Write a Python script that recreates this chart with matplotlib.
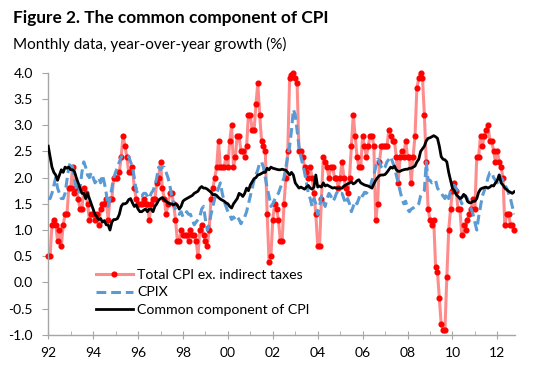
import matplotlib
matplotlib.use("Agg")
import matplotlib.pyplot as plt
from matplotlib.ticker import MultipleLocator, FuncFormatter
import numpy as np

plt.rcParams['font.family'] = ['Lato', 'DejaVu Sans']

START_YEAR = 1992

# Total CPI excluding indirect taxes, monthly yoy % (Jan 1992 - Oct 2012)
cpi_ex_tax = [
    0.5, 0.5, 1.1, 1.2, 1.1, 0.8, 1.0, 0.7, 1.1, 1.3, 1.3, 1.8,
    1.8, 2.2, 1.7, 1.8, 1.6, 1.4, 1.4, 1.8, 1.7, 1.5, 1.2, 1.3,
    1.3, 1.2, 1.3, 1.1, 1.4, 1.5, 1.5, 1.6, 1.2, 1.6, 1.6, 2.0,
    2.0, 2.0, 2.1, 2.4, 2.8, 2.6, 2.4, 2.1, 2.1, 2.2, 1.8, 1.6,
    1.5, 1.5, 1.5, 1.6, 1.5, 1.5, 1.2, 1.5, 1.6, 1.6, 1.9, 2.0,
    2.3, 1.8, 1.6, 1.3, 1.5, 1.7, 1.7, 1.5, 1.2, 0.8, 0.8, 1.0,
    0.9, 0.9, 0.9, 0.8, 1.0, 0.9, 0.9, 0.8, 0.5, 1.0, 1.1, 0.9,
    0.8, 0.7, 1.0, 1.6, 1.8, 2.0, 2.2, 2.7, 2.2, 2.2, 2.2, 2.4,
    2.2, 2.7, 3.0, 2.2, 2.4, 2.8, 2.8, 2.5, 2.5, 2.4, 2.6, 3.2,
    3.2, 2.9, 2.9, 3.4, 3.8, 3.2, 2.7, 2.6, 2.5, 1.3, 0.4, 0.5,
    1.2, 1.5, 1.4, 1.2, 0.8, 0.8, 1.5, 2.0, 2.5, 3.9, 3.95, 4.0,
    3.9, 3.8, 2.5, 2.5, 2.4, 2.2, 2.1, 2.0, 2.2, 2.0, 1.7, 1.3,
    0.7, 0.7, 1.6, 2.4, 2.3, 2.2, 2.0, 2.2, 2.2, 2.0, 2.0, 1.8,
    2.0, 2.3, 2.0, 1.8, 1.7, 2.0, 2.6, 3.2, 2.8, 2.4, 2.2, 2.2,
    2.8, 2.6, 2.4, 2.6, 2.8, 2.8, 2.6, 1.2, 1.5, 2.3, 2.6, 2.6,
    2.6, 2.6, 2.9, 2.8, 2.7, 2.7, 2.4, 1.9, 2.4, 2.5, 2.4, 2.7,
    2.4, 2.4, 1.9, 2.4, 2.8, 3.7, 3.9, 4.0, 3.9, 3.2, 2.3, 1.4,
    1.2, 1.1, 1.2, 0.3, 0.2, -0.3, -0.8, -0.9, -0.9, 0.1, 1.0, 1.4,
    1.75, 1.9, 1.75, 1.4, 1.4, 0.9, 1.1, 1.0, 1.2, 1.3, 1.4, 1.6,
    1.4, 2.4, 2.4, 2.8, 2.6, 2.8, 2.9, 3.0, 2.7, 2.7, 2.5, 2.3,
    2.5, 2.3, 2.2, 2.0, 1.1, 1.3, 1.3, 1.1, 1.1, 1.0,
]

cpix = [
    1.6, 1.6, 1.7, 1.85, 2.0, 1.8, 1.7, 1.6, 1.6, 1.7, 1.95, 2.2,
    2.3, 2.2, 2.0, 1.8, 1.7, 1.8, 2.1, 2.3, 2.2, 2.05, 2.0, 2.1,
    2.0, 1.9, 1.95, 2.0, 1.9, 2.05, 1.9, 1.7, 1.45, 1.6, 1.8, 2.0,
    2.1, 2.2, 2.3, 2.4, 2.4, 2.4, 2.42, 2.4, 2.3, 2.2, 2.0, 1.75,
    1.7, 1.65, 1.65, 1.7, 1.7, 1.65, 1.6, 1.7, 1.75, 1.85, 2.0, 2.2,
    2.15, 2.2, 2.2, 2.1, 2.0, 1.85, 1.65, 1.5, 1.4, 1.32, 1.3, 1.35,
    1.25, 1.3, 1.35, 1.3, 1.3, 1.2, 1.1, 1.15, 1.2, 1.25, 1.4, 1.45,
    1.2, 1.0, 1.1, 1.3, 1.45, 1.6, 1.7, 1.8, 1.9, 1.7, 1.55, 1.45,
    1.35, 1.3, 1.2, 1.25, 1.2, 1.25, 1.2, 1.12, 1.2, 1.25, 1.35, 1.5,
    1.65, 1.8, 1.95, 2.05, 2.15, 2.28, 2.3, 2.2, 2.0, 1.8, 1.65, 1.45,
    1.5, 1.58, 1.65, 1.7, 1.8, 1.9, 2.0, 2.2, 2.4, 2.6, 2.9, 3.3,
    3.2, 2.9, 2.6, 2.4, 2.25, 2.1, 1.9, 1.7, 1.6, 1.45, 1.6, 1.5,
    1.3, 1.45, 1.65, 1.55, 1.45, 1.6, 1.7, 1.65, 1.55, 1.6, 1.7, 1.75,
    1.7, 1.7, 1.6, 1.5, 1.6, 1.5, 1.35, 1.45, 1.55, 1.5, 1.6, 1.7,
    1.65, 1.72, 1.7, 1.75, 1.8, 1.95, 2.05, 2.2, 2.35, 2.3, 2.2, 2.15,
    2.2, 2.3, 2.35, 2.4, 2.3, 2.2, 2.05, 1.9, 1.75, 1.6, 1.5, 1.55,
    1.4, 1.35, 1.4, 1.42, 1.45, 1.45, 1.5, 1.65, 1.7, 1.75, 2.3, 1.95,
    1.95, 1.9, 1.92, 1.95, 1.8, 1.75, 1.7, 1.65, 1.6, 1.7, 1.6, 1.75,
    1.85, 1.85, 1.8, 1.7, 1.6, 1.5, 1.6, 1.65, 1.6, 1.5, 1.4, 1.3,
    1.15, 1.0, 1.25, 1.45, 1.65, 1.75, 1.85, 2.0, 2.1, 2.1, 2.0, 1.95,
    1.9, 2.05, 2.0, 1.95, 1.85, 1.8, 1.7, 1.6, 1.45, 1.3,
]

common = [
    2.6, 2.4, 2.2, 2.1, 2.05, 1.95, 2.05, 2.15, 2.1, 2.2, 2.18, 2.2,
    2.15, 2.15, 2.12, 2.0, 1.9, 1.8, 1.7, 1.7, 1.6, 1.7, 1.6, 1.5,
    1.4, 1.3, 1.25, 1.2, 1.22, 1.15, 1.18, 1.1, 1.1, 1.0, 1.15, 1.2,
    1.2, 1.22, 1.3, 1.45, 1.5, 1.5, 1.52, 1.58, 1.6, 1.52, 1.45, 1.48,
    1.4, 1.35, 1.35, 1.38, 1.4, 1.35, 1.4, 1.4, 1.35, 1.45, 1.5, 1.57,
    1.6, 1.62, 1.58, 1.55, 1.52, 1.5, 1.5, 1.48, 1.5, 1.48, 1.4, 1.45,
    1.55, 1.58, 1.6, 1.62, 1.64, 1.66, 1.7, 1.72, 1.74, 1.8, 1.83, 1.8,
    1.8, 1.78, 1.75, 1.72, 1.67, 1.68, 1.66, 1.62, 1.59, 1.57, 1.55, 1.52,
    1.5, 1.45, 1.42, 1.5, 1.55, 1.6, 1.7, 1.68, 1.64, 1.7, 1.8, 1.75,
    1.86, 1.92, 1.98, 2.0, 2.05, 2.06, 2.08, 2.1, 2.1, 2.18, 2.15, 2.2,
    2.18, 2.17, 2.16, 2.15, 2.15, 2.16, 2.15, 2.14, 2.1, 2.05, 2.1, 2.05,
    1.9, 1.85, 1.8, 1.82, 1.8, 1.78, 1.82, 1.85, 1.8, 1.78, 1.82, 2.05,
    1.82, 1.84, 1.82, 1.9, 1.84, 1.86, 1.84, 1.82, 1.8, 1.81, 1.8, 1.8,
    1.8, 1.8, 1.84, 1.86, 1.88, 1.9, 1.92, 1.88, 1.9, 1.94, 1.96, 1.9,
    1.88, 1.86, 1.85, 1.84, 1.82, 1.8, 1.88, 1.95, 2.0, 2.04, 2.05, 2.05,
    2.06, 2.1, 2.15, 2.2, 2.18, 2.22, 2.15, 2.12, 2.12, 2.14, 2.15, 2.16,
    2.16, 2.18, 2.18, 2.2, 2.22, 2.3, 2.35, 2.5, 2.55, 2.6, 2.7, 2.75,
    2.76, 2.78, 2.8, 2.78, 2.75, 2.6, 2.4, 2.35, 2.34, 2.3, 2.1, 1.95,
    1.8, 1.75, 1.68, 1.64, 1.6, 1.62, 1.68, 1.65, 1.55, 1.52, 1.52, 1.55,
    1.55, 1.6, 1.72, 1.78, 1.8, 1.81, 1.82, 1.8, 1.82, 1.85, 1.84, 1.9,
    1.95, 2.05, 1.9, 1.86, 1.8, 1.77, 1.74, 1.72, 1.7, 1.73,
]

labels = ['Total CPI ex. indirect taxes', 'CPIX', 'Common component of CPI']


def months(series):
    return START_YEAR + np.arange(len(series)) / 12.0


fig = plt.figure(figsize=(5.48, 3.81), dpi=100)
ax = fig.add_axes([0.088, 0.121, 0.852, 0.688])

ax.plot(months(cpi_ex_tax), cpi_ex_tax, color='#FF8C8C', lw=2.2,
        marker='o', ms=3.4, mfc='#FF0000', mec='#FF0000', label=labels[0],
        zorder=2, clip_on=False)
ax.plot(months(cpix), cpix, color='#5B9BD5', lw=2.2, ls=(0, (3.2, 1.6)),
        label=labels[1], zorder=3)
ax.plot(months(common), common, color='black', lw=2.0, label=labels[2], zorder=4)

ax.set_xlim(START_YEAR, START_YEAR + 249.5 / 12)
ax.set_ylim(-1.0, 4.0)

ax.xaxis.set_major_locator(MultipleLocator(2))
ax.xaxis.set_minor_locator(MultipleLocator(1))
ax.xaxis.set_major_formatter(FuncFormatter(lambda v, p: '%02d' % (int(round(v)) % 100)))
ax.yaxis.set_major_locator(MultipleLocator(0.5))
ax.yaxis.set_major_formatter(FuncFormatter(lambda v, p: '%.1f' % v))

for s in ['top', 'right']:
    ax.spines[s].set_visible(False)
for s in ['left', 'bottom']:
    ax.spines[s].set_color('#A6A6A6')
    ax.spines[s].set_linewidth(1.0)

ax.tick_params(axis='x', which='major', direction='inout', length=6, color='#A6A6A6',
               labelsize=10, pad=6)
ax.tick_params(axis='x', which='minor', direction='in', length=3, color='#A6A6A6')
ax.tick_params(axis='y', which='major', direction='out', length=4, color='#A6A6A6',
               labelsize=10, pad=7)

leg = ax.legend(loc='upper left', bbox_to_anchor=(0.102, 0.25), frameon=False,
                fontsize=10.2, handlelength=2.6, handletextpad=0.3,
                labelspacing=0.36, borderaxespad=0, borderpad=0)

fig.text(0.024, 0.953, 'Figure 2. The common component of CPI', fontsize=12.4,
         fontweight='bold', va='center', ha='left')
fig.text(0.024, 0.884, 'Monthly data, year-over-year growth (%)', fontsize=11,
         va='center', ha='left')

fig.savefig('out.png', dpi=100)
